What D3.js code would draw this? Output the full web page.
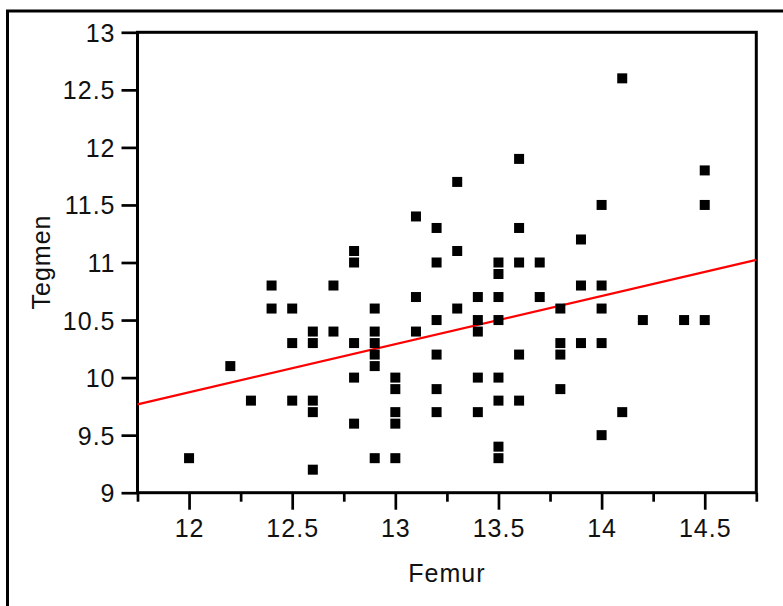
<!DOCTYPE html>
<html>
    <head>
        <script src="https://d3js.org/d3.v7.min.js"></script>
        <style>
            body { margin: 0; background: #fff; }
            text { font-family: "Liberation Sans", Arial, sans-serif; }
        </style>
    </head>
    <body>
        <svg height="606" width="783" id="chart"></svg>
        <script>
            // femur lengths, one entry per column of points
            const femur = [12.0, 12.2, 12.3, 12.4, 12.5, 12.6, 12.7, 12.8, 12.9, 13.0, 13.1, 13.2,
                           13.3, 13.4, 13.5, 13.6, 13.7, 13.8, 13.9, 14.0, 14.1, 14.2, 14.4, 14.5];
            // tegmen values found at each femur value
            const tegmen = [
                [9.3],
                [10.1],
                [9.8],
                [10.8, 10.6],
                [10.6, 10.3, 9.8],
                [10.4, 10.3, 9.8, 9.7, 9.2],
                [10.8, 10.4],
                [11.1, 11.0, 10.3, 10.0, 9.6],
                [10.6, 10.4, 10.3, 10.2, 10.1, 9.3],
                [10.0, 9.9, 9.7, 9.6, 9.3],
                [11.4, 10.7, 10.4],
                [11.3, 11.0, 10.5, 10.2, 9.9, 9.7],
                [11.7, 11.1, 10.6],
                [10.7, 10.5, 10.4, 10.0, 9.7],
                [11.0, 10.9, 10.7, 10.5, 10.0, 9.8, 9.4, 9.3],
                [11.9, 11.3, 11.0, 10.2, 9.8],
                [11.0, 10.7],
                [10.6, 10.3, 10.2, 9.9],
                [11.2, 10.8, 10.3],
                [11.5, 10.8, 10.6, 10.3, 9.5],
                [12.6, 9.7],
                [10.5],
                [10.5],
                [11.8, 11.5, 10.5]
            ];
            const xTicks = [12, 12.5, 13, 13.5, 14, 14.5];
            const xMinorTicks = [11.75, 12.25, 12.75, 13.25, 13.75, 14.25, 14.75];
            const yTicks = [9, 9.5, 10, 10.5, 11, 11.5, 12, 12.5, 13];

            let points = [];
            femur.forEach((f, i) => tegmen[i].forEach(t => points.push({x: f, y: t})));

            let svg = d3.select("#chart");
            let pLeft = 137.5, pRight = 756.3, pTop = 32.3, pBottom = 492.7;

            let x = d3.scaleLinear().domain([11.75, 14.75]).range([pLeft, pRight]);
            let y = d3.scaleLinear().domain([9, 13]).range([pBottom, pTop]);

            // outer frame (cut off at right and bottom)
            svg.append("path")
                .attr("d", "M7.5,606V11H783")
                .style("fill", "none")
                .style("stroke", "black")
                .style("stroke-width", 3);

            // minor x ticks
            let xMinor = svg.append("g")
                .attr("transform", `translate(0,${pBottom})`)
                .call(d3.axisBottom(x).tickValues(xMinorTicks).tickSize(9).tickFormat(""));
            xMinor.select(".domain").remove();

            let xAxis = svg.append("g")
                .attr("transform", `translate(0,${pBottom})`)
                .call(d3.axisBottom(x).tickValues(xTicks).tickSize(17).tickPadding(10).tickFormat(d3.format("")));
            xAxis.select(".domain").remove();

            let yAxis = svg.append("g")
                .attr("transform", `translate(${pLeft},0)`)
                .call(d3.axisLeft(y).tickValues(yTicks).tickSize(16).tickPadding(6).tickFormat(d3.format("")));
            yAxis.select(".domain").remove();

            svg.selectAll(".tick line").style("stroke", "black").style("stroke-width", 2.7);
            svg.selectAll(".tick text")
                .style("font-size", "25px")
                .style("letter-spacing", "1px")
                .style("fill", "#111");
            yAxis.selectAll(".tick text").attr("dy", "0.36em");

            // plot frame
            svg.append("rect")
                .attr("x", pLeft).attr("y", pTop)
                .attr("width", pRight - pLeft).attr("height", pBottom - pTop)
                .style("fill", "none")
                .style("stroke", "black")
                .style("stroke-width", 3);

            // least squares fit
            let mx = d3.mean(points, d => d.x);
            let my = d3.mean(points, d => d.y);
            let slope = d3.sum(points, d => (d.x - mx) * (d.y - my)) / d3.sum(points, d => (d.x - mx) ** 2);
            let fit = x.domain().map(v => ({x: v, y: my + slope * (v - mx)}));

            svg.append("path")
                .datum(fit)
                .attr("d", d3.line().x(d => x(d.x)).y(d => y(d.y)))
                .style("fill", "none")
                .style("stroke", "red")
                .style("stroke-width", 2.2);

            svg.selectAll(".pt")
                .data(points)
                .enter().append("rect")
                .attr("class", "pt")
                .attr("x", d => x(d.x) - 5)
                .attr("y", d => y(d.y) - 5)
                .attr("width", 10)
                .attr("height", 10)
                .style("fill", "black");

            svg.append("text")
                .attr("x", (pLeft + pRight) / 2)
                .attr("y", 581.5)
                .attr("text-anchor", "middle")
                .style("font-size", "25px")
                .style("letter-spacing", "1px")
                .style("fill", "#111")
                .text("Femur");

            svg.append("text")
                .attr("transform", "translate(50,262) rotate(-90)")
                .attr("text-anchor", "middle")
                .style("font-size", "25px")
                .style("letter-spacing", "1px")
                .style("fill", "#111")
                .text("Tegmen");
        </script>
    </body>
</html>
